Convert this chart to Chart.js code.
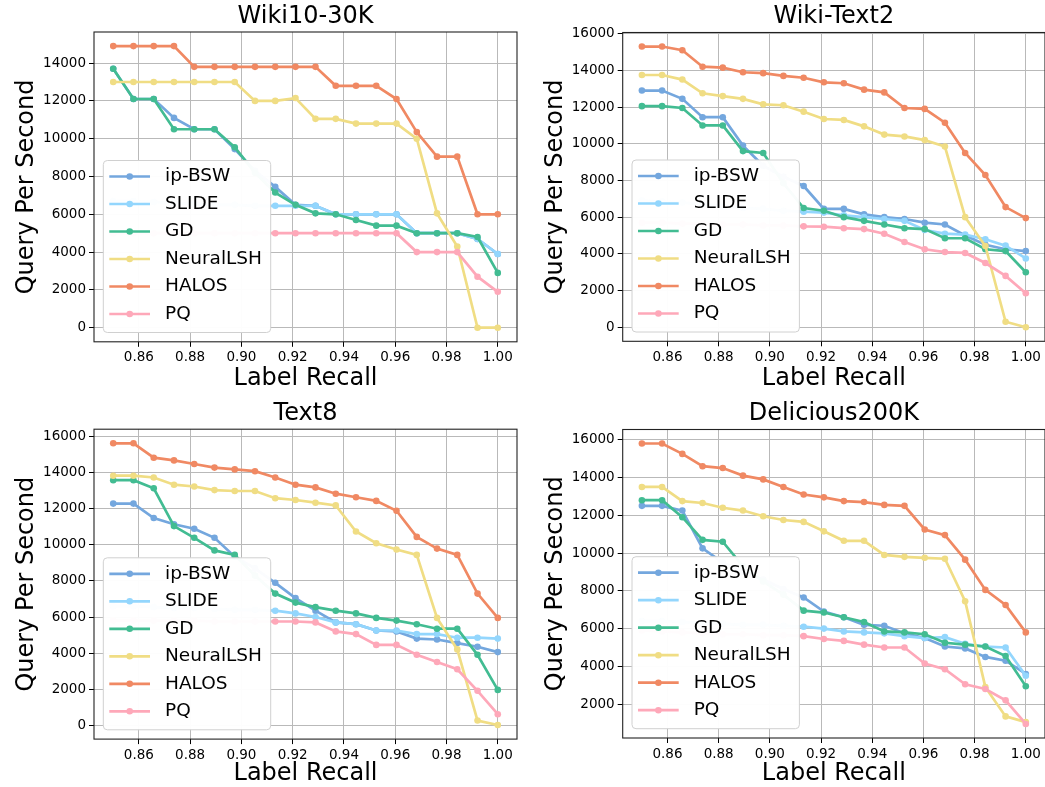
<!DOCTYPE html>
<html><head><meta charset="utf-8">
<script src="https://cdn.jsdelivr.net/npm/chart.js@4.4.0/dist/chart.umd.min.js"></script>
<style>
html,body{margin:0;padding:0;background:#fff;overflow:hidden;width:1045px;height:787px;}
canvas{position:absolute;}
</style></head><body>
<canvas id="c0" style="left:0px;top:0px" width="522" height="393"></canvas>
<canvas id="c1" style="left:529px;top:0px" width="516" height="393"></canvas>
<canvas id="c2" style="left:0px;top:393px" width="522" height="394"></canvas>
<canvas id="c3" style="left:529px;top:393px" width="516" height="394"></canvas>
<script>
// ---------- data ----------
const recall = [0.85, 0.8579, 0.8658, 0.8737, 0.8816, 0.8895, 0.8974, 0.9053, 0.9132, 0.9211,
                0.9289, 0.9368, 0.9447, 0.9526, 0.9605, 0.9684, 0.9763, 0.9842, 0.9921, 1.0];
const seriesNames = ['ip-BSW', 'SLIDE', 'GD', 'NeuralLSH', 'HALOS', 'PQ'];
const panelTitles = ['Wiki10-30K', 'Wiki-Text2', 'Text8', 'Delicious200K'];
const xTicks = [0.86, 0.88, 0.90, 0.92, 0.94, 0.96, 0.98, 1.00];
const xTickLabels = ['0.86', '0.88', '0.90', '0.92', '0.94', '0.96', '0.98', '1.00'];
const yTicksA = [0, 2000, 4000, 6000, 8000, 10000, 12000, 14000];
const yTickLabelsA = ['0', '2000', '4000', '6000', '8000', '10000', '12000', '14000'];
const yTicksB = [0, 2000, 4000, 6000, 8000, 10000, 12000, 14000, 16000];
const yTickLabelsB = ['0', '2000', '4000', '6000', '8000', '10000', '12000', '14000', '16000'];
const yTicksD = [2000, 4000, 6000, 8000, 10000, 12000, 14000, 16000];
const yTickLabelsD = ['2000', '4000', '6000', '8000', '10000', '12000', '14000', '16000'];

// Wiki10-30K
const wiki10IpBSW  = [13700, 12100, 12100, 11100, 10500, 10500, 9450, 8300, 7450, 6500, 6450, 6000, 6000, 6000, 6000, 5000, 5000, 5000, 4700, 3900];
const wiki10Slide  = [6700, 6700, 6650, 6600, 6550, 6500, 6500, 6450, 6450, 6450, 6450, 6000, 6000, 6000, 6000, 5000, 5000, 5000, 4700, 3900];
const wiki10GD     = [13700, 12100, 12100, 10500, 10500, 10500, 9550, 8200, 7150, 6500, 6050, 6000, 5700, 5400, 5400, 5000, 5000, 5000, 4800, 2900];
const wiki10Neural = [13000, 13000, 13000, 13000, 13000, 13000, 13000, 12000, 12000, 12150, 11050, 11050, 10800, 10800, 10800, 10000, 6050, 4300, 0, 0];
const wiki10Halos  = [14900, 14900, 14900, 14900, 13800, 13800, 13800, 13800, 13800, 13800, 13800, 12800, 12800, 12800, 12100, 10350, 9050, 9050, 6000, 6000];
const wiki10PQ     = [5000, 5000, 5000, 5000, 5000, 5000, 5000, 5000, 5000, 5000, 5000, 5000, 5000, 5000, 5000, 4000, 4000, 4000, 2700, 1900];

// Wiki-Text2
const wtIpBSW  = [12900, 12900, 12450, 11450, 11450, 9900, 8800, 8200, 7700, 6450, 6450, 6150, 6000, 5900, 5700, 5600, 5000, 4500, 4250, 4150];
const wtSlide  = [6900, 6850, 6800, 6700, 6600, 6500, 6450, 6350, 6300, 6250, 6100, 6000, 5900, 5800, 5300, 5100, 5050, 4800, 4450, 3750];
const wtGD     = [12050, 12050, 11950, 11000, 11000, 9600, 9500, 7850, 6500, 6350, 6000, 5800, 5600, 5400, 5350, 4850, 4850, 4250, 4150, 3000];
const wtNeural = [13750, 13750, 13500, 12750, 12600, 12450, 12150, 12100, 11750, 11350, 11300, 10950, 10500, 10400, 10200, 9850, 6000, 4430, 300, 0];
const wtHalos  = [15300, 15300, 15100, 14200, 14150, 13900, 13850, 13700, 13600, 13350, 13300, 12950, 12800, 11950, 11900, 11150, 9500, 8300, 6550, 5950];
const wtPQ     = [5700, 5700, 5650, 5650, 5600, 5600, 5550, 5550, 5500, 5480, 5400, 5350, 5100, 4650, 4250, 4100, 4050, 3500, 2800, 1850];

// Text8
const t8IpBSW  = [12300, 12300, 11500, 11150, 10900, 10400, 9350, 8700, 7900, 7050, 6350, 5700, 5600, 5250, 5200, 4800, 4750, 4550, 4350, 4050];
const t8Slide  = [6600, 6600, 6550, 6500, 6500, 6450, 6400, 6400, 6350, 6200, 6000, 5700, 5600, 5250, 5250, 5050, 5050, 4850, 4850, 4800];
const t8GD     = [13600, 13600, 13150, 11050, 10400, 9700, 9450, 8300, 7300, 6800, 6550, 6350, 6200, 5950, 5800, 5600, 5350, 5350, 3900, 1950];
const t8Neural = [13850, 13850, 13750, 13350, 13250, 13050, 13000, 13000, 12600, 12500, 12350, 12200, 10750, 10100, 9750, 9450, 5950, 4200, 250, 0];
const t8Halos  = [15650, 15650, 14850, 14700, 14500, 14300, 14200, 14100, 13750, 13350, 13200, 12850, 12650, 12450, 11900, 10450, 9800, 9450, 7300, 5950];
const t8PQ     = [5800, 5800, 5800, 5800, 5800, 5750, 5750, 5750, 5750, 5750, 5700, 5200, 5050, 4450, 4450, 3900, 3500, 3100, 1900, 600];

// Delicious200K
const delIpBSW  = [12500, 12500, 12250, 10250, 9500, 9000, 8600, 8100, 7650, 6900, 6600, 6200, 6150, 5750, 5500, 5050, 4950, 4500, 4300, 3600];
const delSlide  = [6400, 6400, 6350, 6300, 6250, 6200, 6200, 6150, 6100, 6000, 5850, 5800, 5750, 5600, 5500, 5550, 5200, 5050, 5000, 3500];
const delGD     = [12800, 12800, 11900, 10700, 10600, 9300, 8500, 7800, 6950, 6850, 6600, 6350, 5850, 5800, 5700, 5250, 5150, 5050, 4550, 2950];
const delNeural = [13500, 13500, 12750, 12650, 12400, 12250, 11950, 11750, 11650, 11150, 10650, 10650, 9900, 9800, 9750, 9700, 7450, 2900, 1350, 1050];
const delHalos  = [15800, 15800, 15250, 14600, 14500, 14100, 13900, 13500, 13100, 12950, 12750, 12700, 12550, 12500, 11250, 10950, 9650, 8050, 7250, 5800];
const delPQ     = [5900, 5850, 5800, 5750, 5700, 5700, 5650, 5650, 5600, 5450, 5350, 5150, 5000, 5000, 4150, 3850, 3050, 2800, 2200, 950];

// ---------- styles ----------
const seriesColors = ['#74a7de', '#93d6fd', '#42bc92', '#f0dd84', '#f08963', '#fea8b9'];
const FONT = "'DejaVu Sans', sans-serif";
const GRID = '#b9b9b9';

const framePlugin = {
  id: 'frame',
  afterDatasetsDraw(chart) {
    const {ctx, chartArea: a} = chart;
    ctx.save();
    ctx.strokeStyle = '#222';
    ctx.lineWidth = 1.1;
    ctx.strokeRect(a.left, a.top, a.right - a.left, a.bottom - a.top);
    ctx.restore();
  }
};

const boxLegend = {
  id: 'boxLegend',
  afterDraw(chart) {
    const {ctx, chartArea: a} = chart;
    const W = 167.4, H = 172;
    const x0 = a.left + 9.3, y0 = a.bottom - 9.3 - H;
    ctx.save();
    ctx.beginPath();
    ctx.roundRect(x0, y0, W, H, 4);
    ctx.fillStyle = 'rgba(255,255,255,0.97)';
    ctx.fill();
    ctx.strokeStyle = '#d0d0d0';
    ctx.lineWidth = 1;
    ctx.stroke();
    chart.data.datasets.forEach((ds, i) => {
      const y = y0 + 16 + i * 27.5;
      ctx.strokeStyle = ds.borderColor;
      ctx.lineWidth = 2.7;
      ctx.beginPath();
      ctx.moveTo(x0 + 6, y);
      ctx.lineTo(x0 + 46.7, y);
      ctx.stroke();
      ctx.fillStyle = ds.borderColor;
      ctx.beginPath();
      ctx.arc(x0 + 26.4, y, 3.3, 0, Math.PI * 2);
      ctx.fill();
      ctx.fillStyle = '#000';
      ctx.font = '18.5px ' + FONT;
      ctx.textBaseline = 'middle';
      ctx.textAlign = 'left';
      ctx.fillText(ds.label, x0 + 61.7, y);
    });
    ctx.restore();
  }
};

const panels = [
  {id: 'c0', title: panelTitles[0], series: [wiki10IpBSW, wiki10Slide, wiki10GD, wiki10Neural, wiki10Halos, wiki10PQ],
   yTicks: yTicksA, yLabels: yTickLabelsA, area: {left: 94, right: 517, top: 32, bottom: 341.8}, tp: 5, xtp: 2},
  {id: 'c1', title: panelTitles[1], series: [wtIpBSW, wtSlide, wtGD, wtNeural, wtHalos, wtPQ],
   yTicks: yTicksB, yLabels: yTickLabelsB, area: {left: 93.7, right: 516, top: 32.5, bottom: 341.3}, tp: 5, xtp: 2},
  {id: 'c2', title: panelTitles[2], series: [t8IpBSW, t8Slide, t8GD, t8Neural, t8Halos, t8PQ],
   yTicks: yTicksB, yLabels: yTickLabelsB, area: {left: 94, right: 517, top: 36.2, bottom: 346.1}, tp: 8.9, xtp: 1},
  {id: 'c3', title: panelTitles[3], series: [delIpBSW, delSlide, delGD, delNeural, delHalos, delPQ],
   yTicks: yTicksD, yLabels: yTickLabelsD, area: {left: 93.7, right: 516, top: 36.5, bottom: 345}, tp: 8.9, xtp: 1}
];

function makePanel(p) {
  const canvas = document.getElementById(p.id);
  const W = canvas.width, H = canvas.height, a = p.area;
  const datasets = p.series.map((arr, i) => ({
    label: seriesNames[i],
    data: recall.map((x, j) => ({x: x, y: arr[j]})),
    borderColor: seriesColors[i],
    backgroundColor: seriesColors[i],
    pointBackgroundColor: seriesColors[i],
    pointBorderColor: seriesColors[i],
    borderWidth: 2.7,
    pointRadius: 3.3,
    pointBorderWidth: 0,
    pointHoverRadius: 3.3,
    fill: false,
    tension: 0,
    order: seriesNames.length - i
  }));
  const all = p.series.flat();
  const lo = Math.min(...all), hi = Math.max(...all), m = (hi - lo) * 0.05;
  const xlo = Math.min(...recall), xhi = Math.max(...recall), xm = (xhi - xlo) * 0.05;
  const tickFont = {family: FONT, size: 13.5};
  const labFont = {family: FONT, size: 24, lineHeight: 1};
  new Chart(canvas, {
    type: 'line',
    data: {datasets},
    options: {
      responsive: false, animation: false, devicePixelRatio: 1, events: [],
      layout: {autoPadding: false, padding: {left: 0, top: 0, bottom: 0, right: W - a.right}},
      plugins: {
        legend: {display: false},
        tooltip: {enabled: false},
        title: {display: true, text: p.title, fullSize: false, color: '#000',
                font: {family: FONT, size: 24, lineHeight: 1, weight: 'normal'},
                padding: {top: p.tp, bottom: a.top - 24 - p.tp}}
      },
      scales: {
        x: {
          type: 'linear', bounds: 'data', min: xlo - xm, max: xhi + xm,
          afterBuildTicks: s => { s.ticks = xTicks.map(v => ({value: v})); },
          afterFit: s => { s.height = H - a.bottom; },
          ticks: {autoSkip: false, maxRotation: 0, minRotation: 0, padding: 3, color: '#000', font: tickFont,
                  callback: (v, i) => xTickLabels[i]},
          grid: {color: GRID, lineWidth: 1, tickColor: '#000', tickLength: 5, tickWidth: 1},
          border: {display: false},
          title: {display: true, text: 'Label Recall', color: '#000', font: labFont, padding: {top: 0, bottom: p.xtp}}
        },
        y: {
          type: 'linear', bounds: 'data', min: lo - m, max: hi + m,
          afterBuildTicks: s => { s.ticks = p.yTicks.map(v => ({value: v})); },
          afterFit: s => { s.width = a.left; },
          ticks: {autoSkip: false, padding: 3, color: '#000', font: tickFont,
                  callback: (v, i) => p.yLabels[i]},
          grid: {color: GRID, lineWidth: 1, tickColor: '#000', tickLength: 5, tickWidth: 1},
          border: {display: false},
          title: {display: true, text: 'Query Per Second', color: '#000', font: labFont, padding: {top: 15, bottom: 0}}
        }
      }
    },
    plugins: [framePlugin, boxLegend]
  });
}
panels.forEach(makePanel);
</script>
</body></html>
